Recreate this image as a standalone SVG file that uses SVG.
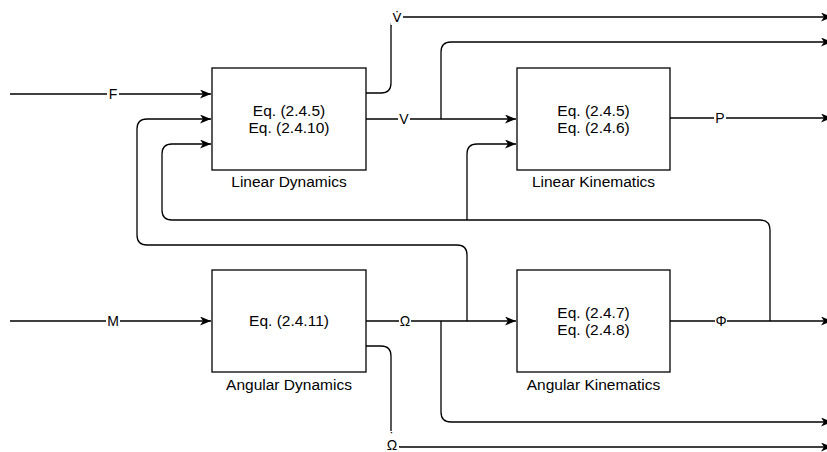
<svg xmlns="http://www.w3.org/2000/svg" width="827" height="452" viewBox="0 0 827 452">
<defs>
<style>
.box{fill:#fff;stroke:#000;stroke-width:1.3}
.w{fill:none;stroke:#000;stroke-width:1.3}
.t{font-family:"Liberation Sans",Arial,sans-serif;font-size:15.5px;fill:#000;text-anchor:middle}
.l{font-family:"Liberation Sans",Arial,sans-serif;font-size:14px;fill:#000;text-anchor:middle}
.d{font-family:"DejaVu Sans",sans-serif;font-size:13px;fill:#000;text-anchor:middle}
.bg{fill:#fff}
</style>
<marker id="a" markerUnits="userSpaceOnUse" markerWidth="12" markerHeight="10" refX="11" refY="4.5" orient="auto">
<path d="M0,0 L11,4.5 L0,9 L3,4.5 z" fill="#000"/>
</marker>
</defs>
<g id="connectors">
<path class="w" d="M10,94 H211" marker-end="url(#a)"/>
<path class="w" d="M10,321 H211" marker-end="url(#a)"/>
<path class="w" d="M366,119 H516" marker-end="url(#a)"/>
<path class="w" d="M441,119 V52 Q441,42 451,42 H832" marker-end="url(#a)"/>
<path class="w" d="M366,93 H381 Q391,93 391,83 V27 Q391,17 401,17 H832" marker-end="url(#a)"/>
<path class="w" d="M670,118 H832" marker-end="url(#a)"/>
<path class="w" d="M366,321 H516" marker-end="url(#a)"/>
<path class="w" d="M670,321 H832" marker-end="url(#a)"/>
<path class="w" d="M770,321 V230 Q770,220 760,220 H172 Q162,220 162,210 V154 Q162,144 172,144 H211" marker-end="url(#a)"/>
<path class="w" d="M467,220 V154 Q467,144 477,144 H516" marker-end="url(#a)"/>
<path class="w" d="M467,321 V255 Q467,245 457,245 H147 Q137,245 137,235 V129 Q137,119 147,119 H211" marker-end="url(#a)"/>
<path class="w" d="M441,321 V412 Q441,422 451,422 H832" marker-end="url(#a)"/>
<path class="w" d="M366,346 H381 Q391,346 391,356 V437 Q391,447 401,447 H832" marker-end="url(#a)"/>
<rect class="bg" x="107" y="86" width="12" height="16"/>
<text class="l" x="113" y="99">F</text>
<rect class="bg" x="106" y="313" width="14" height="16"/>
<text class="l" x="113" y="326">M</text>
<rect class="bg" x="398" y="111" width="12" height="16"/>
<text class="l" x="404" y="124">V</text>
<rect class="bg" x="399" y="313" width="12" height="16"/>
<text class="l" x="405" y="326">Ω</text>
<rect class="bg" x="714" y="110" width="12" height="16"/>
<text class="l" x="720" y="123">P</text>
<rect class="bg" x="715" y="313" width="12" height="16"/>
<text class="l" x="721" y="326">Φ</text>
<rect class="bg" x="391" y="5" width="12" height="20"/>
<text class="d" x="397" y="22">V̇</text>
<rect class="bg" x="385" y="431" width="14" height="21"/>
<text class="l" x="392" y="450">Ω<tspan x="392" y="443">˙</tspan></text>
</g>
<g id="linear-dynamics">
<rect class="box" x="212" y="68" width="154" height="102"/>
<text class="t" x="289" y="116">Eq. (2.4.5)</text>
<text class="t" x="289" y="133">Eq. (2.4.10)</text>
<text class="t" x="289" y="187">Linear Dynamics</text>
</g>
<g id="linear-kinematics">
<rect class="box" x="517" y="68" width="153" height="102"/>
<text class="t" x="593.5" y="116">Eq. (2.4.5)</text>
<text class="t" x="593.5" y="133">Eq. (2.4.6)</text>
<text class="t" x="593.5" y="187">Linear Kinematics</text>
</g>
<g id="angular-dynamics">
<rect class="box" x="212" y="270" width="154" height="102"/>
<text class="t" x="289" y="326">Eq. (2.4.11)</text>
<text class="t" x="289" y="390">Angular Dynamics</text>
</g>
<g id="angular-kinematics">
<rect class="box" x="517" y="270" width="153" height="102"/>
<text class="t" x="593.5" y="318">Eq. (2.4.7)</text>
<text class="t" x="593.5" y="335">Eq. (2.4.8)</text>
<text class="t" x="593.5" y="390">Angular Kinematics</text>
</g>
</svg>
